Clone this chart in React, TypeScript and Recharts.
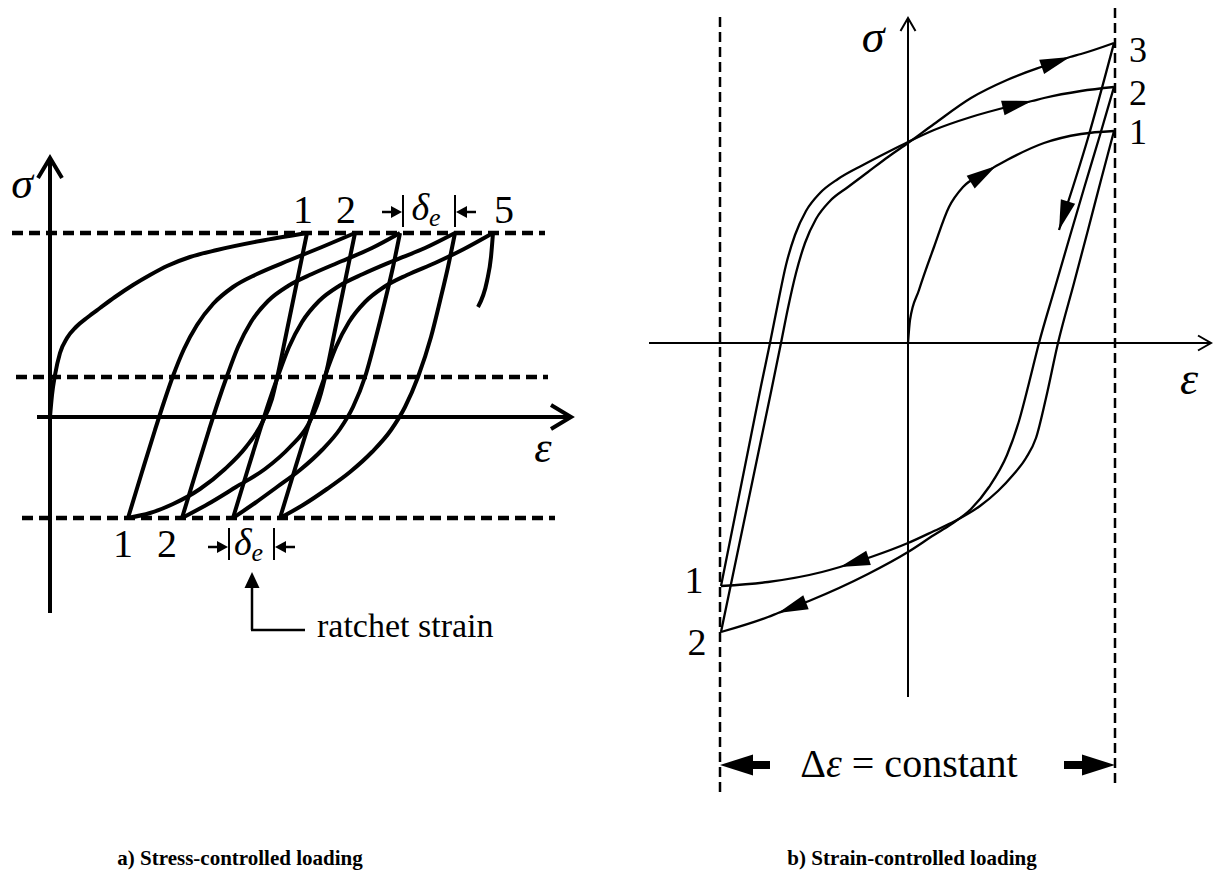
import React from 'react';
import { LineChart, Line, XAxis, YAxis, ReferenceLine, ReferenceDot } from 'recharts';

type Pt = [number, number];

// Both diagrams are drawn in schematic units: strain e to the right, stress s upward,
// and the axis domains are chosen so one unit is one pixel in each direction.

// ---- a) stress-controlled loading ----
const aStressMax = 184;
const aStressMean = 40;
const aStressMin = -101;

const aInitial: Pt[] = [[0, 0], [2, 22], [5, 42], [10, 64], [17, 79], [26, 90], [38, 100], [50, 109], [65, 120], [83, 132], [100, 142], [117, 151], [140, 160], [167, 167], [210, 176], [257, 184]];

const aUnload1: Pt[] = [[257, 184], [250, 150], [243, 116], [236, 82], [229, 48], [222, 18], [212, -6], [196, -30], [175, -52], [150, -72], [123, -87], [100, -96], [78, -101]];
const aUnload2: Pt[] = [[305, 184], [298, 150], [291, 116], [284, 82], [277, 48], [269, 17], [258, -8], [240, -30], [215, -52], [186, -70], [158, -87], [132, -101]];
const aUnload3: Pt[] = [[350, 184], [343, 150], [335, 116], [326, 80], [315, 40], [303, 10], [290, -12], [272, -33], [250, -53], [227, -70], [205, -86], [183, -101]];
const aUnload4: Pt[] = [[405, 184], [398, 150], [390, 116], [381, 80], [368, 40], [355, 10], [341, -13], [322, -35], [300, -55], [277, -72], [253, -88], [230, -101]];
const aUnload5: Pt[] = [[443, 184], [441, 160], [437, 136], [428, 110]];

const aReload1: Pt[] = [[78, -101], [92, -55], [105, -13], [114, 15], [123, 41], [134, 68], [147, 92], [163, 113], [183, 130], [207, 143], [240, 157], [272, 170], [305, 184]];
const aReload2: Pt[] = [[132, -101], [146, -55], [159, -13], [168, 15], [177, 41], [188, 70], [201, 95], [218, 116], [238, 131], [262, 143], [292, 156], [322, 169], [350, 184]];
const aReload3: Pt[] = [[183, -101], [197, -55], [210, -13], [219, 15], [228, 41], [239, 70], [252, 95], [269, 116], [289, 131], [313, 143], [343, 156], [375, 169], [405, 184]];
const aReload4: Pt[] = [[230, -101], [244, -55], [257, -13], [266, 15], [275, 41], [286, 70], [299, 95], [315, 115], [334, 130], [357, 142], [385, 154], [414, 168], [443, 184]];

const aCurves = [aInitial, aUnload1, aReload1, aUnload2, aReload2, aUnload3, aReload3, aUnload4, aReload4, aUnload5];

// ratchet strain brackets (strain at each bar)
const aTopBars = [353, 405];
const aBottomBars = [179, 224];

// ---- b) strain-controlled loading ----
const bStrainMin = -188;
const bStrainMax = 207;

const bInitial: Pt[] = [[0, 0], [2, 23], [11, 53], [26, 96], [41, 136], [55, 156], [77, 170], [88, 177], [99, 183], [136, 200], [173, 209], [206, 212]];
const bUnload1: Pt[] = [[206, 212], [193, 163], [180, 113], [166, 60], [150, 0], [138, -55], [128, -95], [118, -115], [105, -132], [90, -148], [72, -163], [47, -178], [26, -188], [0, -200], [-37, -214], [-68, -224], [-86, -229], [-140, -239], [-187, -243]];
const bReload1: Pt[] = [[-187, -243], [-177, -193], [-167, -143], [-157, -93], [-147, -43], [-138, 0], [-130, 40], [-122, 78], [-113, 108], [-102, 132], [-88, 150], [-70, 164], [-45, 178], [-20, 191], [0, 201], [26, 213], [63, 226], [103, 237], [124, 242], [136, 245], [173, 252], [206, 256]];
const bUnload2: Pt[] = [[206, 256], [192, 208], [177, 158], [162, 107], [146, 52], [131, 0], [121, -40], [111, -78], [99, -112], [81, -144], [63, -166], [42, -182], [26, -192], [0, -209], [-40, -231], [-99, -258], [-130, -270], [-140, -274], [-187, -289]];
const bReload2: Pt[] = [[-187, -289], [-177, -241], [-167, -193], [-157, -145], [-147, -97], [-137, -49], [-127, 0], [-120, 35], [-112, 70], [-103, 100], [-92, 124], [-78, 142], [-60, 156], [-40, 171], [-20, 186], [0, 200], [26, 219], [63, 245], [99, 263], [136, 277], [162, 286], [173, 289], [206, 300]];
const bUnload3: Pt[] = [[206, 300], [180, 205], [151, 113]];

const bCurves = [bInitial, bUnload1, bReload1, bUnload2, bReload2, bUnload3];

// direction arrows sit on a curve vertex: [curve, vertex index]
const bArrows: [Pt[], number][] = [[bInitial, 7], [bReload1, 18], [bReload2, 20], [bUnload3, 2], [bUnload1, 15], [bUnload2, 16]];

const FONT = '"Liberation Serif", "DejaVu Serif", serif';

const rows = (pts: Pt[]) => pts.map(([e, s]) => ({ e, s }));

// screen angle of travel into vertex i (one unit = one pixel, y flipped)
const dirAt = (pts: Pt[], i: number) => {
  const [e0, s0] = pts[i - 1];
  const [e1, s1] = pts[i];
  return Math.atan2(-(s1 - s0), e1 - e0);
};

const UP = -Math.PI / 2;
const RIGHT = 0;
const LEFT = Math.PI;

const head = (ang: number, len: number, wid: number, open = false, sw = 0) => (p: any) => {
  const c = Math.cos(ang);
  const sn = Math.sin(ang);
  const bx = p.cx - len * c;
  const by = p.cy - len * sn;
  const nx = (-sn * wid) / 2;
  const ny = (c * wid) / 2;
  const d = `M${bx + nx},${by + ny}L${p.cx},${p.cy}L${bx - nx},${by - ny}`;
  return open ? (
    <path d={d} fill="none" stroke="#000" strokeWidth={sw} strokeLinejoin="miter" />
  ) : (
    <path d={d + 'Z'} fill="#000" />
  );
};

type TxtOpts = { italic?: boolean; anchor?: 'start' | 'middle' | 'end'; baseline?: 'central' | 'alphabetic' };

const txt = (content: React.ReactNode, size: number, o: TxtOpts = {}) => (p: any) => (
  <text
    x={p.cx}
    y={p.cy}
    textAnchor={o.anchor ?? 'middle'}
    dominantBaseline={o.baseline ?? 'central'}
    fill="#000"
    style={{ fontFamily: FONT, fontSize: size, fontStyle: o.italic ? 'italic' : 'normal' }}
  >
    {content}
  </text>
);

const deltaE = (
  <>
    <tspan style={{ fontStyle: 'italic' }}>δ</tspan>
    <tspan style={{ fontStyle: 'italic', fontSize: 26 }} dy={10}>e</tspan>
  </>
);

const seg = (e0: number, s0: number, e1: number, s1: number) => [{ x: e0, y: s0 }, { x: e1, y: s1 }];

const margin = { top: 0, right: 0, bottom: 0, left: 0 };

function StressControlled() {
  const [tl, tr] = aTopBars;
  const [bl, br] = aBottomBars;
  return (
    <LineChart width={600} height={700} margin={margin}>
      <XAxis type="number" dataKey="e" domain={[-50, 550]} allowDataOverflow hide />
      <YAxis type="number" dataKey="s" domain={[-283, 417]} allowDataOverflow hide />

      {/* max, mean and min stress levels */}
      <ReferenceLine segment={seg(-38, aStressMax, 495, aStressMax)} stroke="#000" strokeWidth={4.5} strokeDasharray="11 6" />
      <ReferenceLine segment={seg(-34, aStressMean, 498, aStressMean)} stroke="#000" strokeWidth={4.5} strokeDasharray="11 6" />
      <ReferenceLine segment={seg(-28, aStressMin, 505, aStressMin)} stroke="#000" strokeWidth={4.5} strokeDasharray="11 6" />

      {/* axes */}
      <ReferenceLine segment={seg(0, -196, 0, 258)} stroke="#000" strokeWidth={4} />
      <ReferenceLine segment={seg(-13, 0, 520, 0)} stroke="#000" strokeWidth={4} />
      <ReferenceDot x={0} y={259} shape={head(UP, 20, 24, true, 4)} />
      <ReferenceDot x={521} y={0} shape={head(RIGHT, 20, 24, true, 4)} />
      <ReferenceDot x={-28} y={234} shape={txt('σ', 44, { italic: true })} />
      <ReferenceDot x={493} y={-30} shape={txt('ε', 44, { italic: true })} />

      {aCurves.map((pts, i) => (
        <Line
          key={'a' + i}
          data={rows(pts)}
          dataKey="s"
          type="monotone"
          stroke="#000"
          strokeWidth={4}
          dot={false}
          activeDot={false}
          isAnimationActive={false}
        />
      ))}

      {/* cycle numbers */}
      <ReferenceDot x={253} y={208} shape={txt('1', 40)} />
      <ReferenceDot x={296} y={208} shape={txt('2', 40)} />
      <ReferenceDot x={454} y={208} shape={txt('5', 40)} />
      <ReferenceDot x={73} y={-126} shape={txt('1', 40)} />
      <ReferenceDot x={117} y={-126} shape={txt('2', 40)} />

      {/* ratchet strain bracket at the peaks */}
      <ReferenceLine segment={seg(tl, 190, tl, 222)} stroke="#000" strokeWidth={2} />
      <ReferenceLine segment={seg(tr, 190, tr, 222)} stroke="#000" strokeWidth={2} />
      <ReferenceLine segment={seg(tl - 21, 205, tl - 8, 205)} stroke="#000" strokeWidth={2.5} />
      <ReferenceLine segment={seg(tr + 8, 205, tr + 21, 205)} stroke="#000" strokeWidth={2.5} />
      <ReferenceDot x={tl - 1} y={205} shape={head(RIGHT, 11, 12)} />
      <ReferenceDot x={tr + 1} y={205} shape={head(LEFT, 11, 12)} />
      <ReferenceDot x={(tl + tr) / 2 - 3} y={210} shape={txt(deltaE, 38)} />

      {/* ratchet strain bracket at the valleys */}
      <ReferenceLine segment={seg(bl, -111, bl, -143)} stroke="#000" strokeWidth={2} />
      <ReferenceLine segment={seg(br, -111, br, -143)} stroke="#000" strokeWidth={2} />
      <ReferenceLine segment={seg(bl - 21, -130, bl - 8, -130)} stroke="#000" strokeWidth={2.5} />
      <ReferenceLine segment={seg(br + 8, -130, br + 21, -130)} stroke="#000" strokeWidth={2.5} />
      <ReferenceDot x={bl - 1} y={-130} shape={head(RIGHT, 11, 12)} />
      <ReferenceDot x={br + 1} y={-130} shape={head(LEFT, 11, 12)} />
      <ReferenceDot x={(bl + br) / 2 - 3} y={-125} shape={txt(deltaE, 38)} />

      {/* pointer to the label */}
      <ReferenceLine segment={seg(202, -213, 202, -168)} stroke="#000" strokeWidth={2.5} />
      <ReferenceLine segment={seg(201, -213, 255, -213)} stroke="#000" strokeWidth={2.5} />
      <ReferenceDot x={202} y={-155} shape={head(UP, 16, 15)} />
      <ReferenceDot x={267} y={-220} shape={txt('ratchet strain', 34, { anchor: 'start', baseline: 'alphabetic' })} />
    </LineChart>
  );
}

function StrainControlled() {
  return (
    <LineChart width={614} height={878} margin={margin}>
      <XAxis type="number" dataKey="e" domain={[-308, 306]} allowDataOverflow hide />
      <YAxis type="number" dataKey="s" domain={[-535, 343]} allowDataOverflow hide />

      {/* strain limits */}
      <ReferenceLine segment={seg(bStrainMin, 326, bStrainMin, -450)} stroke="#000" strokeWidth={2.5} strokeDasharray="10 5" />
      <ReferenceLine segment={seg(bStrainMax, 335, bStrainMax, -444)} stroke="#000" strokeWidth={2.5} strokeDasharray="10 5" />

      {/* axes */}
      <ReferenceLine segment={seg(0, -354, 0, 324)} stroke="#000" strokeWidth={2} />
      <ReferenceLine segment={seg(-259, 0, 302, 0)} stroke="#000" strokeWidth={2} />
      <ReferenceDot x={0} y={325} shape={head(UP, 13, 15, true, 2)} />
      <ReferenceDot x={303} y={0} shape={head(RIGHT, 13, 15, true, 2)} />
      <ReferenceDot x={-35} y={307} shape={txt('σ', 46, { italic: true })} />
      <ReferenceDot x={281} y={-35} shape={txt('ε', 46, { italic: true })} />

      {bCurves.map((pts, i) => (
        <Line
          key={'b' + i}
          data={rows(pts)}
          dataKey="s"
          type="monotone"
          stroke="#000"
          strokeWidth={2.3}
          dot={false}
          activeDot={false}
          isAnimationActive={false}
        />
      ))}

      {bArrows.map(([pts, i], k) => (
        <ReferenceDot key={'h' + k} x={pts[i][0]} y={pts[i][1]} shape={head(dirAt(pts, i), 30, 15)} />
      ))}

      {/* cycle numbers at the strain limits */}
      <ReferenceDot x={230} y={293} shape={txt('3', 36)} />
      <ReferenceDot x={230} y={250} shape={txt('2', 36)} />
      <ReferenceDot x={230} y={211} shape={txt('1', 36)} />
      <ReferenceDot x={-214} y={-237} shape={txt('1', 38)} />
      <ReferenceDot x={-211} y={-299} shape={txt('2', 38)} />

      {/* strain range */}
      <ReferenceLine segment={seg(bStrainMin + 28, -422, bStrainMin + 50, -422)} stroke="#000" strokeWidth={8} />
      <ReferenceLine segment={seg(bStrainMax - 51, -422, bStrainMax - 29, -422)} stroke="#000" strokeWidth={8} />
      <ReferenceDot x={bStrainMin} y={-422} shape={head(LEFT, 33, 21)} />
      <ReferenceDot x={bStrainMax} y={-422} shape={head(RIGHT, 33, 21)} />
      <ReferenceDot
        x={1}
        y={-420}
        shape={txt(
          <>
            Δ<tspan style={{ fontStyle: 'italic' }}>ε</tspan> = constant
          </>,
          40,
        )}
      />
    </LineChart>
  );
}

const caption: React.CSSProperties = {
  position: 'absolute',
  top: 845,
  width: 480,
  textAlign: 'center',
  fontFamily: FONT,
  fontWeight: 'bold',
  fontSize: 21,
  lineHeight: '26px',
};

export default function App() {
  return (
    <div style={{ position: 'absolute', left: 0, top: 0, width: 1214, height: 878, background: '#fff', overflow: 'hidden' }}>
      <div style={{ position: 'absolute', left: 0, top: 0 }}>
        <StressControlled />
      </div>
      <div style={{ position: 'absolute', left: 600, top: 0 }}>
        <StrainControlled />
      </div>
      <div style={{ ...caption, left: 0 }}>a) Stress-controlled loading</div>
      <div style={{ ...caption, left: 672 }}>b) Strain-controlled loading</div>
    </div>
  );
}
